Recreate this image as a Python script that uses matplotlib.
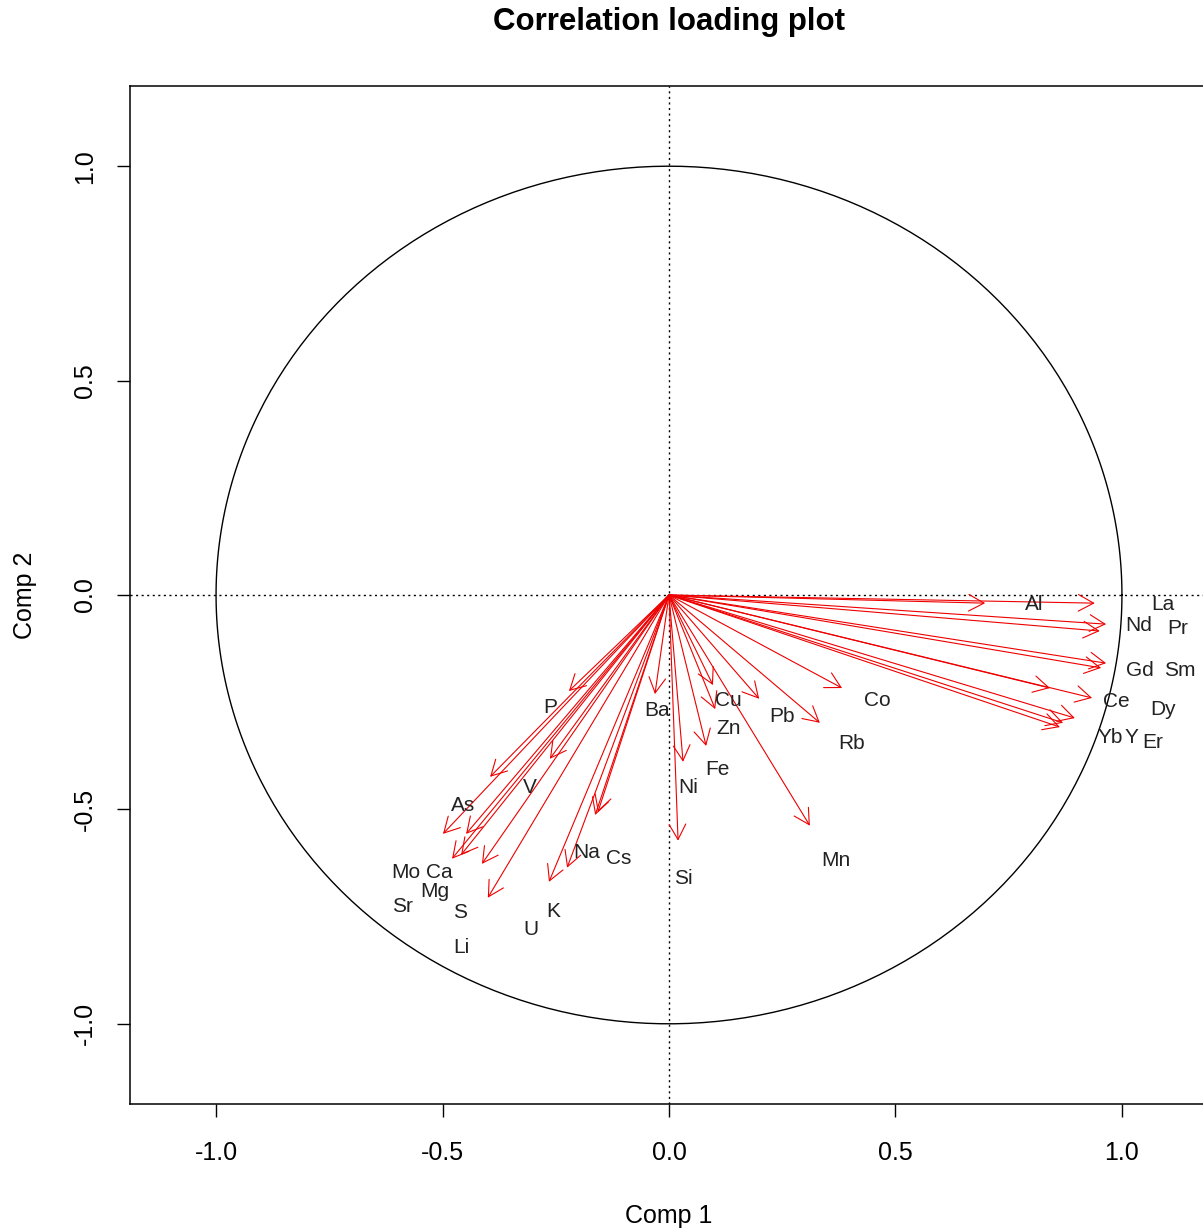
import numpy as np
import matplotlib
matplotlib.use("Agg")
import matplotlib.pyplot as plt

plt.rcParams["font.family"] = ["Liberation Sans", "DejaVu Sans"]

# variable names, arrow tips (loadings) and label positions
names = ["Al", "La", "Nd", "Pr", "Gd", "Sm", "Ce", "Dy", "Yb", "Y", "Er",
         "Co", "Rb", "Mn", "Pb", "Cu", "Zn", "Fe", "Ni", "Si", "Ba",
         "P", "V", "As", "Na", "Cs", "Mo", "Ca", "Mg", "Sr", "S", "Li", "U", "K"]

tip_x = [0.698, 0.940, 0.951, 0.965, 0.954, 0.965, 0.841, 0.934, 0.863, 0.870, 0.896,
         0.382, 0.333, 0.311, 0.199, 0.097, 0.102, 0.082, 0.031, 0.020, -0.031,
         -0.221, -0.263, -0.395, -0.163, -0.157, -0.499, -0.448, -0.459, -0.479,
         -0.413, -0.400, -0.265, -0.225]
tip_y = [-0.019, -0.019, -0.084, -0.068, -0.170, -0.159, -0.217, -0.240, -0.308, -0.298, -0.287,
         -0.217, -0.298, -0.538, -0.242, -0.210, -0.266, -0.352, -0.389, -0.573, -0.231,
         -0.224, -0.382, -0.424, -0.513, -0.506, -0.557, -0.557, -0.606, -0.615,
         -0.627, -0.706, -0.669, -0.636]

label_x = [0.806, 1.091, 1.038, 1.124, 1.040, 1.128, 0.987, 1.091, 0.974, 1.020, 1.068,
           0.459, 0.402, 0.369, 0.249, 0.130, 0.132, 0.106, 0.042, 0.031, -0.026,
           -0.263, -0.307, -0.455, -0.181, -0.110, -0.581, -0.506, -0.517, -0.589,
           -0.461, -0.459, -0.305, -0.256]
label_y = [-0.021, -0.021, -0.072, -0.079, -0.177, -0.177, -0.249, -0.268, -0.333, -0.333, -0.345,
           -0.247, -0.347, -0.618, -0.284, -0.245, -0.312, -0.408, -0.450, -0.660, -0.270,
           -0.263, -0.450, -0.492, -0.601, -0.615, -0.646, -0.646, -0.692, -0.727,
           -0.741, -0.821, -0.779, -0.737]

ticks = [-1.0, -0.5, 0.0, 0.5, 1.0]
tick_labels = ["-1.0", "-0.5", "0.0", "0.5", "1.0"]

fig = plt.figure(figsize=(12.03, 12.32), dpi=100)
ax = fig.add_axes([130 / 1203, 128 / 1232, 1078 / 1203, 1018 / 1232])
ax.set_xlim(-1.19, 1.19)
ax.set_ylim(-1.187, 1.187)

theta = np.linspace(0, 2 * np.pi, 400)
ax.plot(np.cos(theta), np.sin(theta), color="black", lw=1.0)
ax.axhline(0, color="black", lw=1.0, linestyle=(0, (1.5, 2.5)))
ax.axvline(0, color="black", lw=1.0, linestyle=(0, (1.5, 2.5)))

for tx, ty in zip(tip_x, tip_y):
    ax.annotate("", xy=(tx, ty), xytext=(0, 0),
                arrowprops=dict(arrowstyle="->,head_length=1.1,head_width=0.6",
                                color="#ee0000", lw=0.8, shrinkA=0, shrinkB=0,
                                mutation_scale=10))

for n, lx, ly in zip(names, label_x, label_y):
    ax.text(lx, ly, n, ha="center", va="center", fontsize=15, color="#222222")

ax.set_xticks(ticks)
ax.set_xticklabels(tick_labels)
ax.set_yticks(ticks)
ax.set_yticklabels(tick_labels, rotation=90, va="center")
ax.tick_params(axis="both", direction="out", length=9.5, width=1.0, labelsize=18)
ax.tick_params(axis="x", pad=17)
ax.tick_params(axis="y", pad=14)
for s in ax.spines.values():
    s.set_linewidth(1.1)

ax.set_xlabel("Comp 1", fontsize=18, labelpad=28)
ax.set_ylabel("Comp 2", fontsize=18, labelpad=26)
fig.text(669 / 1203, 1 - 22 / 1232, "Correlation loading plot", ha="center", va="center",
         fontsize=22.5, fontweight="bold")

fig.savefig("out.png", dpi=100)
